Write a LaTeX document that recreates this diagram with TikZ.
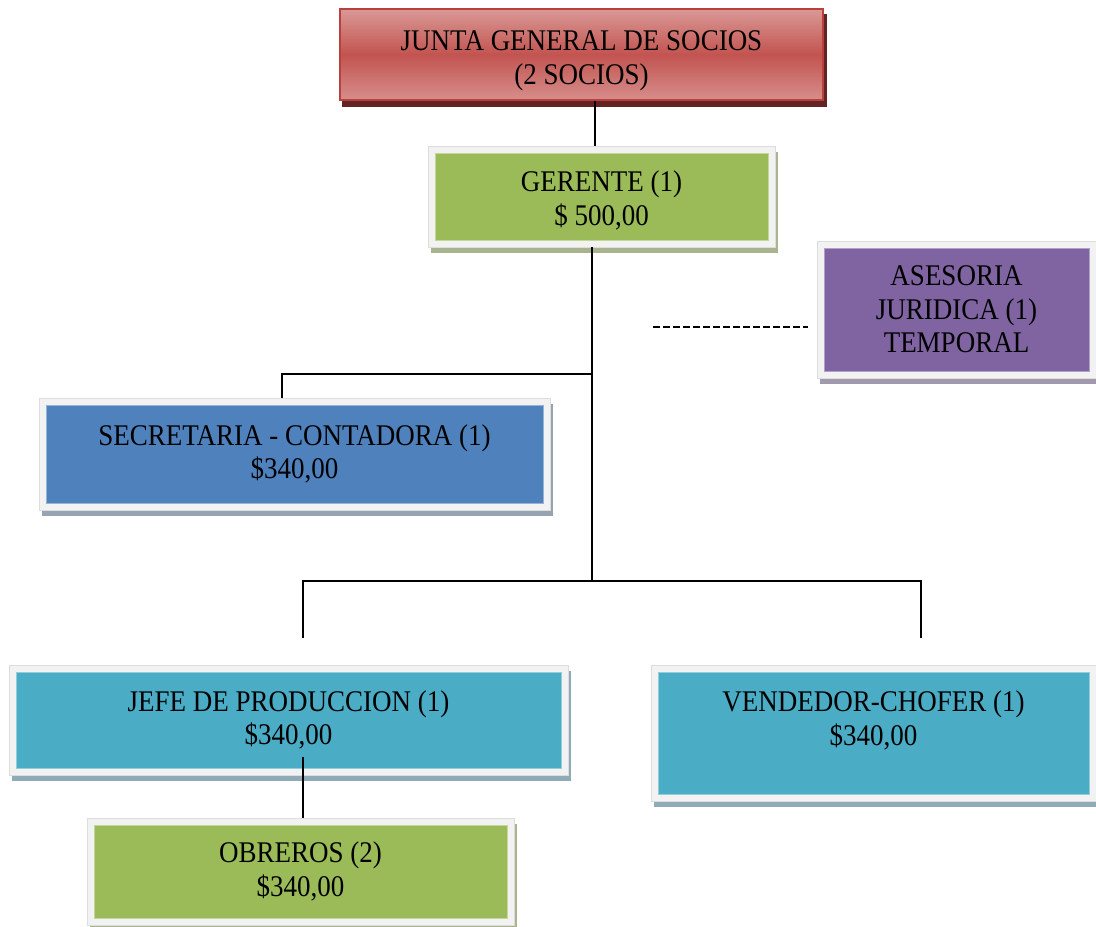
\documentclass[tikz,border=0pt]{standalone}
\usepackage{fontspec}
\usetikzlibrary{backgrounds}
\newfontfamily\cardfont[FakeStretch=0.9]{Liberation Serif}

\definecolor{jtop}{HTML}{DA9896}
\definecolor{jmid}{HTML}{C25450}
\definecolor{jbot}{HTML}{D68E8C}
\definecolor{jedge}{HTML}{B8403D}
\definecolor{jshadow}{HTML}{632523}
\definecolor{cgreen}{HTML}{9BBB59}
\definecolor{cgreenedge}{HTML}{C3D69B}
\definecolor{sgreen}{HTML}{A9B48E}
\definecolor{cpurple}{HTML}{8064A2}
\definecolor{cpurpleedge}{HTML}{B2A1C7}
\definecolor{spurple}{HTML}{A199AE}
\definecolor{cblue}{HTML}{4F81BD}
\definecolor{cblueedge}{HTML}{95B3D7}
\definecolor{sblue}{HTML}{95A3B3}
\definecolor{cteal}{HTML}{4BACC6}
\definecolor{ctealedge}{HTML}{92CDDC}
\definecolor{steal}{HTML}{8FABB6}
\definecolor{framefill}{HTML}{F2F2F2}
\definecolor{frameedge}{HTML}{DDDDDD}

% shadow and light frame behind a framed card
\newcommand\cardframe[2]{%
  \fill[#2] ([shift={(3,6)}]#1.north west) rectangle ([shift={(3,6)}]#1.south east);
  \filldraw[fill=framefill, draw=frameedge, line width=0.8pt]
    (#1.north west) rectangle (#1.south east);}

\begin{document}
\begin{tikzpicture}[x=1pt, y=-1pt,
  label text/.style={font=\cardfont\fontsize{30}{33.5}\selectfont, text=black, align=center},
  card/.style={rectangle, label text, inner sep=0pt, outer sep=7pt, line width=0.8pt},
  link/.style={draw=black, line width=1.6pt},
  dashlink/.style={draw=black, line width=2.4pt, dash pattern=on 7pt off 3pt}]

\useasboundingbox (0,0) rectangle (1096,927);

% cards
\node[rectangle, label text, inner sep=0pt, line width=1.8pt, draw=jedge,
      top color=jtop, bottom color=jbot, middle color=jmid,
      minimum width=483pt, minimum height=91pt] (junta) at (581.5,54.5)
      {\rule{0pt}{32pt}JUNTA GENERAL DE SOCIOS\\(2 SOCIOS)};
\node[card, fill=cgreen, draw=cgreenedge, minimum width=333pt, minimum height=87pt]
      (ger) at (601.5,196.5) {\rule{0pt}{29pt}GERENTE (1)\\\$ 500,00};
\node[card, fill=cpurple, draw=cpurpleedge, minimum width=265pt, minimum height=123pt]
      (ase) at (956.5,309.5) {ASESORIA\\JURIDICA (1)\\TEMPORAL};
\node[card, fill=cblue, draw=cblueedge, minimum width=497pt, minimum height=98pt]
      (sec) at (294.5,454) {SECRETARIA - CONTADORA (1)\\\$340,00};
\node[card, fill=cteal, draw=ctealedge, minimum width=545pt, minimum height=96pt]
      (jefe) at (288.5,720) {JEFE DE PRODUCCION (1)\\\$340,00};
\node[card, fill=cteal, draw=ctealedge, minimum width=431pt, minimum height=122pt]
      (ven) at (873.5,733) {VENDEDOR-CHOFER (1)\\\$340,00\\[-14pt]\strut};
\node[card, fill=cgreen, draw=cgreenedge, minimum width=413pt, minimum height=93pt]
      (obr) at (300.5,871.5) {OBREROS (2)\\\$340,00};

% frames and shadows
\begin{scope}[on background layer]
  \fill[jshadow] ([shift={(3,6)}]junta.north west) rectangle ([shift={(3,6)}]junta.south east);
  \cardframe{ger}{sgreen}
  \cardframe{ase}{spurple}
  \cardframe{sec}{sblue}
  \cardframe{jefe}{steal}
  \cardframe{ven}{steal}
  \cardframe{obr}{sgreen}
\end{scope}

% guide points of the connectors
\coordinate (xtop) at (595,0);
\coordinate (xtrunk) at (592,0);
\coordinate (xsec) at (282,0);
\coordinate (trunkA) at (592,374);
\coordinate (trunkB) at (592,581);
\coordinate (jefedrop) at (303,638);
\coordinate (vendrop) at (921,638);
\coordinate (jefelow) at (303,757);
\coordinate (dashA) at (653,327);
\coordinate (dashB) at (808,327);

% connectors
\draw[link] (junta.south -| xtop) -- (ger.north -| xtop);
\draw[link] (ger.south -| xtrunk) -- (trunkB);
\draw[link] (trunkA) -| (sec.north -| xsec);
\draw[link] (jefedrop) |- (vendrop |- trunkB) -- (vendrop);
\draw[link] (jefelow) -- (obr.north -| jefelow);
\draw[dashlink] (dashA) -- (dashB);

\end{tikzpicture}
\end{document}
